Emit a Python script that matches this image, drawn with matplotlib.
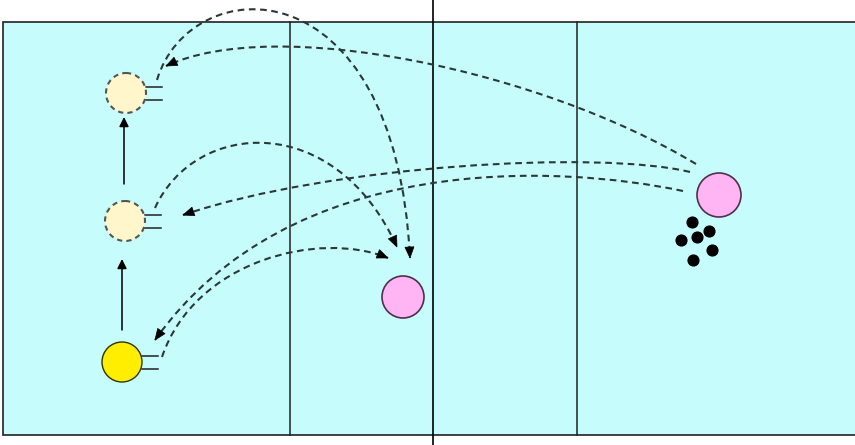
import numpy as np
import matplotlib
matplotlib.use("Agg")
import matplotlib.pyplot as plt
from matplotlib.patches import Rectangle, Circle, PathPatch, Polygon
from matplotlib.path import Path

# court geometry (pixel units, y downward)
court_box = (3, 22, 860, 435)
zone_lines_x = [290, 577]
net_x = 433

# players: (x, y, radius)
yellow_player = (122, 362, 20)
pale_players = [(125, 221, 20), (126, 93, 20)]
pink_players = [(403, 297, 21), (719, 195, 22)]
balls_x = [692, 709, 681, 697, 712, 693]
balls_y = [222, 231, 240, 237, 250, 260]

# solid movement arrows (start -> end)
moves = [((122, 330), (122, 259)), ((124, 184), (124, 117))]

# dashed pass trajectories as cubic bezier: start, ctrl1, ctrl2, end
passes = [
    [(696, 164), (540, 70), (275, 15), (166, 66)],
    [(690, 172), (600, 150), (330, 165), (183, 215)],
    [(683, 191), (560, 165), (290, 150), (155, 340)],
    [(162, 357), (195, 260), (320, 230), (388, 258)],
    [(155, 208), (195, 120), (335, 110), (397, 247)],
    [(157, 80), (190, -30), (395, -40), (410, 258)],
]

court_color = "#c6fcfc"
dash_color = "#2a3838"

fig = plt.figure(figsize=(8.55, 4.45), dpi=100)
ax = fig.add_axes([0, 0, 1, 1])
ax.set_xlim(0, 855)
ax.set_ylim(445, 0)
ax.axis("off")

x0, y0, x1, y1 = court_box
ax.add_patch(Rectangle((x0, y0), x1 - x0, y1 - y0, facecolor=court_color,
                       edgecolor="#222222", lw=1.2, zorder=1))
for zx in zone_lines_x:
    ax.plot([zx, zx], [y0, y1], color="#222222", lw=1.1, zorder=2)
ax.plot([net_x, net_x], [0, 445], color="black", lw=1.2, zorder=2)


def hands(x, y, r):
    for dy in (-6, 7):
        ax.plot([x + r, x + r + 16], [y + dy, y + dy], color="#222222", lw=1.1, zorder=4)


x, y, r = yellow_player
ax.add_patch(Circle((x, y), r, facecolor="#ffee00", edgecolor="#333300", lw=1.0, zorder=5))
hands(x, y, r)
for x, y, r in pale_players:
    ax.add_patch(Circle((x, y), r, facecolor="#fff6cc", edgecolor="#555555", lw=1.5,
                        linestyle=(0, (2.5, 2)), zorder=5))
    hands(x, y, r)
for x, y, r in pink_players:
    ax.add_patch(Circle((x, y), r, facecolor="#ffb4f4", edgecolor="#503048", lw=1.2, zorder=5))

ax.scatter(balls_x, balls_y, s=60, color="black", zorder=5)

for (sx, sy), (ex, ey) in moves:
    ax.annotate("", xy=(ex, ey), xytext=(sx, sy),
                arrowprops=dict(arrowstyle="-|>", color="black", lw=1.1,
                                mutation_scale=14, shrinkA=0, shrinkB=0), zorder=4)


def head(tip, back, length=11, half_w=4.5):
    tip = np.array(tip, float)
    d = tip - np.array(back, float)
    d /= np.hypot(*d)
    n = np.array([-d[1], d[0]])
    base = tip - d * length
    pts = [tip, base + n * half_w, base - n * half_w]
    ax.add_patch(Polygon(pts, closed=True, facecolor="black", edgecolor="black", lw=0.5, zorder=6))


for pts in passes:
    path = Path(pts, [Path.MOVETO, Path.CURVE4, Path.CURVE4, Path.CURVE4])
    ax.add_patch(PathPatch(path, facecolor="none", edgecolor=dash_color, lw=1.5,
                           linestyle=(0, (3.2, 2.2)), zorder=3))
    head(pts[3], pts[2])

fig.savefig("out.png", dpi=100)
